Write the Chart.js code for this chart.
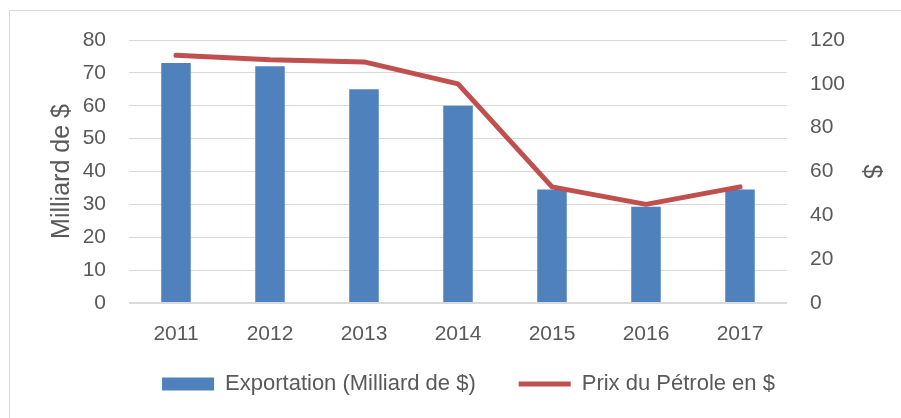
<!DOCTYPE html>
<html>
<head>
<meta charset="utf-8">
<script src="https://cdn.jsdelivr.net/npm/chart.js@4.4.0/dist/chart.umd.min.js"></script>
<style>
  html, body { margin: 0; padding: 0; background: #fff; overflow: hidden; }
  #wrap { position: relative; width: 901px; height: 418px; }
  #frame { position: absolute; left: 9px; top: 10px; width: 950px; height: 450px; border: 1px solid #d9d9d9; }
  canvas { position: absolute; left: 0; top: 0; }
</style>
</head>
<body>
<div id="wrap">
  <div id="frame"></div>
  <canvas id="chart" width="901" height="418"></canvas>
</div>
<script>
const years = ['2011', '2012', '2013', '2014', '2015', '2016', '2017'];
const exportations = [73, 72, 65, 60, 34.5, 29.3, 34.5];
const oilPrices = [113, 111, 110, 100, 53, 45, 53];

const textColor = '#595959';
const gridColor = '#d9d9d9';
const fontFamily = '"Liberation Sans", Arial, sans-serif';

// legend needs 43px between items but not 43px above them, so lift it after layout
const legendLift = {
    id: 'legendLift',
    afterLayout: chart => {
        if (chart.legend) {
            chart.legend.top -= 35;
            chart.legend.bottom -= 35;
        }
    }
};

new Chart(document.getElementById('chart').getContext('2d'), {
    data: {
        labels: years,
        datasets: [
            {
                type: 'bar',
                label: 'Exportation (Milliard de $)',
                data: exportations,
                backgroundColor: '#4f81bd',
                borderWidth: 0,
                yAxisID: 'y',
                order: 1,
                barPercentage: 1,
                categoryPercentage: 0.314
            },
            {
                type: 'line',
                label: 'Prix du Pétrole en $',
                data: oilPrices,
                borderColor: '#c0504d',
                backgroundColor: '#c0504d',
                borderWidth: 5,
                borderCapStyle: 'round',
                borderJoinStyle: 'round',
                pointRadius: 0,
                tension: 0,
                yAxisID: 'y1',
                order: 0
            }
        ]
    },
    options: {
        responsive: false,
        animation: false,
        layout: { padding: { left: 36, right: 0, top: 40, bottom: -22 } },
        plugins: {
            tooltip: { enabled: false },
            legend: {
                position: 'bottom',
                labels: {
                    usePointStyle: true,
                    pointStyleWidth: 52,
                    boxHeight: 13,
                    padding: 43,
                    color: textColor,
                    font: { family: fontFamily, size: 22 },
                    sort: (a, b) => a.datasetIndex - b.datasetIndex,
                    generateLabels: chart => {
                        const items = Chart.defaults.plugins.legend.labels.generateLabels(chart);
                        items.forEach(it => {
                            it.pointStyle = it.datasetIndex === 0 ? 'rect' : 'line';
                        });
                        return items;
                    }
                }
            }
        },
        scales: {
            x: {
                grid: { display: false, drawTicks: false },
                border: { display: false },
                ticks: { color: textColor, font: { family: fontFamily, size: 21 }, padding: 19 },
                afterFit: s => { s.height = 62; }
            },
            y: {
                position: 'left',
                min: 0, max: 80,
                ticks: { stepSize: 10, color: textColor, font: { family: fontFamily, size: 21 }, padding: 23 },
                grid: {
                    color: gridColor,
                    lineWidth: ctx => ctx.tick.value === 0 ? 2 : 1,
                    drawTicks: false
                },
                border: { display: false },
                title: {
                    display: true,
                    text: 'Milliard de $',
                    color: textColor,
                    font: { family: fontFamily, size: 25 },
                    padding: { top: 11, bottom: 0 }
                },
                afterFit: s => { s.width = 93; }
            },
            y1: {
                position: 'right',
                min: 0, max: 120,
                ticks: { stepSize: 20, color: textColor, font: { family: fontFamily, size: 21 }, padding: 23 },
                grid: { display: false, drawTicks: false },
                border: { display: false },
                title: {
                    display: true,
                    text: '$',
                    color: textColor,
                    font: { family: fontFamily, size: 25 },
                    padding: { top: 15, bottom: 0 }
                },
                afterFit: s => { s.width = 114; }
            }
        }
    },
    plugins: [legendLift]
});
</script>
</body>
</html>
